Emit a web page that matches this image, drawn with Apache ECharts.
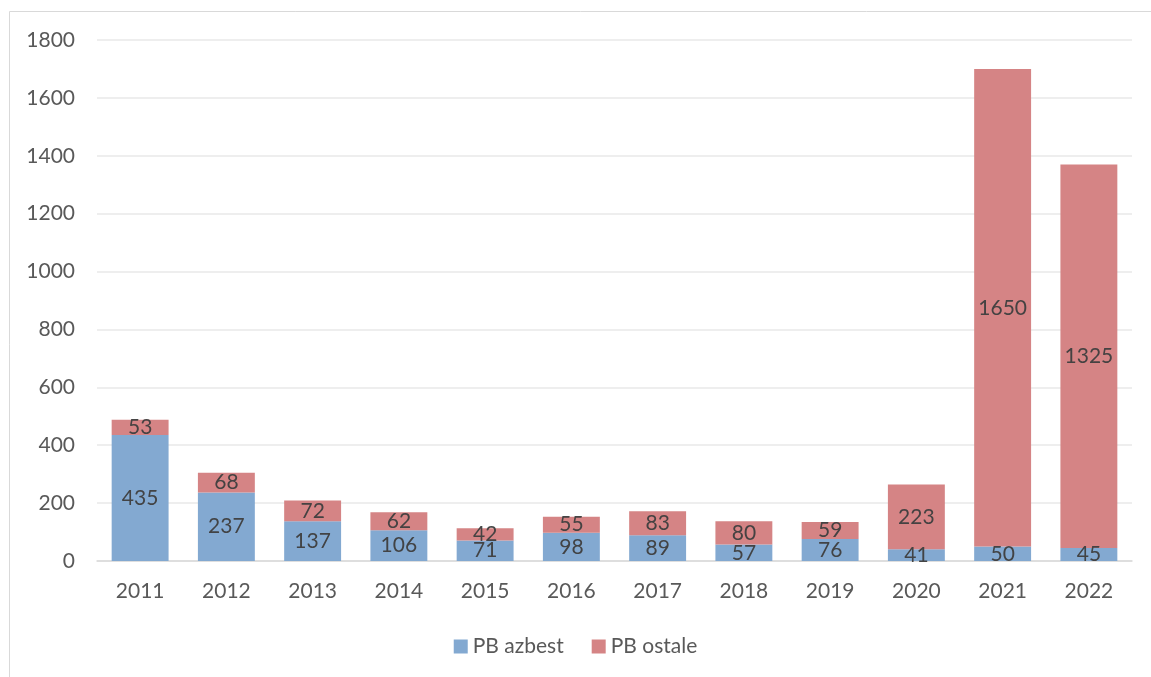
<!DOCTYPE html>
<html>
<head>
<meta charset="utf-8">
<script src="https://cdn.jsdelivr.net/npm/echarts@6/dist/echarts.min.js"></script>
<style>
  html, body { margin: 0; padding: 0; background: #fff; }
  #chart { width: 1151px; height: 677px; }
</style>
</head>
<body>
<div id="chart"></div>
<script>
var years = ['2011', '2012', '2013', '2014', '2015', '2016', '2017', '2018', '2019', '2020', '2021', '2022'];
var azbest = [435, 237, 137, 106, 71, 98, 89, 57, 76, 41, 50, 45];
var ostale = [53, 68, 72, 62, 42, 55, 83, 80, 59, 223, 1650, 1325];
var yTicks = [0, 200, 400, 600, 800, 1000, 1200, 1400, 1600, 1800];

var font = 'Lato, "Open Sans", sans-serif';
var myChart = echarts.init(document.getElementById('chart'));

var labelStyle = {
  show: true,
  position: 'inside',
  color: '#404040',
  fontFamily: font,
  fontSize: 21
};

myChart.setOption({
  animation: false,
  graphic: [{
    type: 'rect',
    shape: { x: 9.5, y: 11.5, width: 1160, height: 700 },
    style: { fill: 'none', stroke: '#d9d9d9', lineWidth: 1 },
    silent: true
  }],
  grid: { left: 97, right: 19, top: 40, bottom: 116 },
  legend: {
    bottom: 15,
    left: 'center',
    itemWidth: 14,
    itemHeight: 14,
    itemGap: 28,
    icon: 'rect',
    textStyle: { color: '#595959', fontFamily: font, fontSize: 21 },
    data: ['PB azbest', 'PB ostale']
  },
  xAxis: {
    type: 'category',
    data: years,
    axisTick: { show: false },
    axisLine: { lineStyle: { color: '#d9d9d9', width: 1.5 } },
    axisLabel: { color: '#595959', fontFamily: font, fontSize: 21, margin: 20 }
  },
  yAxis: {
    type: 'value',
    min: yTicks[0],
    max: yTicks[yTicks.length - 1],
    interval: 200,
    axisLine: { show: false },
    axisTick: { show: false },
    splitLine: { lineStyle: { color: '#e8e8e8', width: 1.5 } },
    axisLabel: {
      color: '#595959', fontFamily: font, fontSize: 21, margin: 22,
      formatter: function (v) { return String(v); }
    }
  },
  series: [
    {
      name: 'PB azbest',
      type: 'bar',
      stack: 'pb',
      barWidth: '66%',
      data: azbest,
      itemStyle: { color: '#7fa6d0', opacity: 0.97 },
      label: labelStyle
    },
    {
      name: 'PB ostale',
      type: 'bar',
      stack: 'pb',
      data: ostale,
      itemStyle: { color: '#d48081', opacity: 0.97 },
      label: labelStyle
    }
  ]
});
</script>
</body>
</html>
